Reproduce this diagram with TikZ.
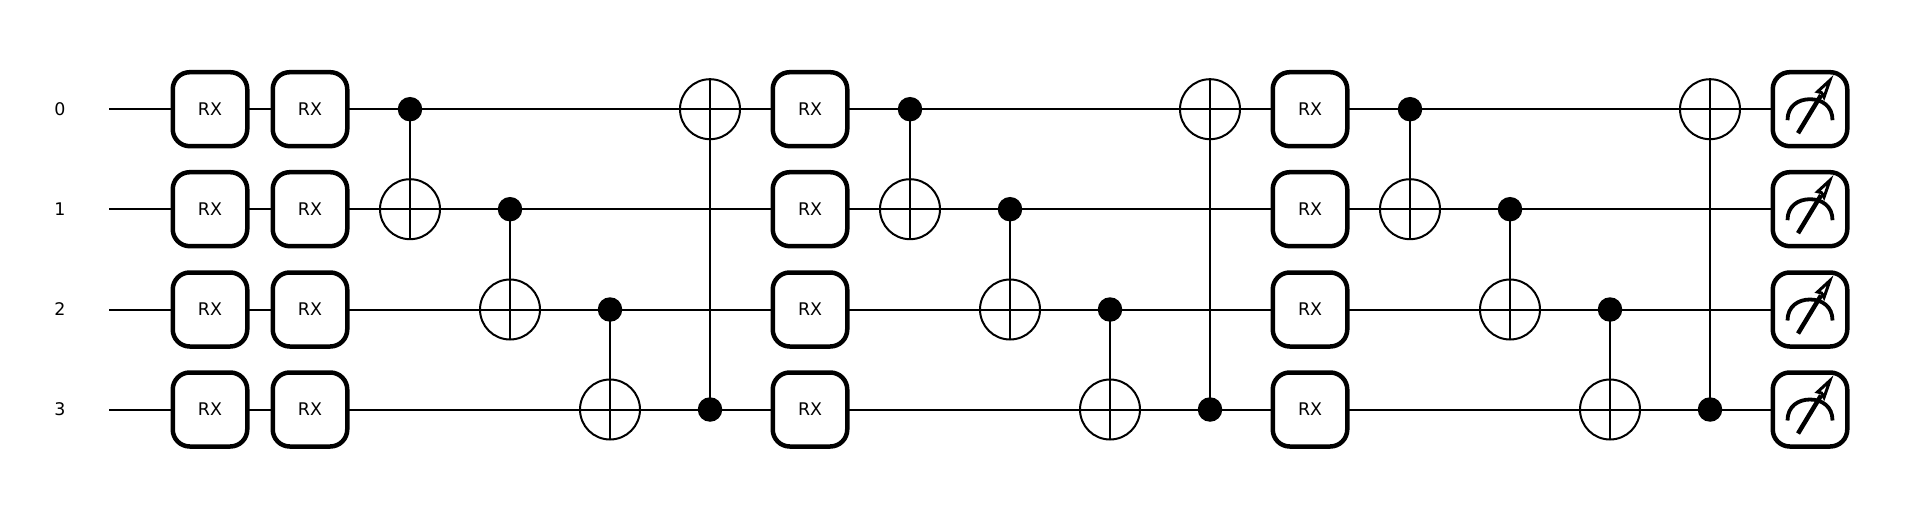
\documentclass[tikz,border=0pt]{standalone}
\usepackage{fontspec}
\setmainfont{DejaVu Sans}
\tikzset{
  x=1pt,y=-1pt,
  wire/.style={line width=2pt,black},
  link/.style={line width=2pt,black},
  gatebox/.style={draw=black,fill=white,line width=4.5pt,rounded corners=17pt,minimum width=74.5pt,minimum height=74pt,inner sep=0pt,outer sep=0pt,font=\fontsize{17.4}{20}\selectfont},
  ctrl/.style={circle,fill=black,draw=none,minimum size=24.5pt,inner sep=0pt,outer sep=0pt},
  targ/.style={circle,draw=black,fill=white,line width=2pt,minimum size=60pt,inner sep=0pt,outer sep=0pt},
  wlabel/.style={font=\fontsize{17.4}{20}\selectfont,inner sep=0pt},
  meterline/.style={line width=4.5pt,black},
}
\begin{document}
\begin{tikzpicture}
\useasboundingbox (0,0) rectangle (1920,519);
\fill[white] (0,0) rectangle (1920,519);
% wire ends
\foreach \q/\y in {0/109.2,1/209.2,2/309.5,3/409.5}{
  \node[wlabel] (L\q) at (60,\y) {\q};
  \coordinate (W\q) at (109,\y);
  \coordinate (E\q) at (1810,\y);
  \draw[wire] (W\q) -- (E\q);
}
% RX gates
\foreach \x in {210,310,810,1310}{
  \foreach \q/\y in {0/109.2,1/209.2,2/309.5,3/409.5}{
    \node[gatebox] (R\x-\q) at (\x,\y) {RX};
  }
}
% CNOTs: column / control / target
\foreach \x/\yc/\yt in {410/109.2/209.2,510/209.2/309.5,610/309.5/409.5,710/409.5/109.2,
                      910/109.2/209.2,1010/209.2/309.5,1110/309.5/409.5,1210/409.5/109.2,
                      1410/109.2/209.2,1510/209.2/309.5,1610/309.5/409.5,1710/409.5/109.2}{
  \node[targ] (T\x) at (\x,\yt) {};
  \node[ctrl] (C\x) at (\x,\yc) {};
  \draw[link] (C\x.center) -- (T\x.center);
  \draw[link] (T\x.west) -- (T\x.east);
  \draw[link] (T\x.north) -- (T\x.south);
}
% Measurements
\foreach \q/\y in {0/109.2,1/209.2,2/309.5,3/409.5}{
  \node[gatebox] (M\q) at (1810,\y) {};
  \begin{scope}[shift={(M\q.center)}]
    \draw[meterline,line width=3.8pt] (-22.5,11) .. controls (-22.5,-3) and (-12,-10) .. (0,-10)
       .. controls (12,-10) and (22.5,-3) .. (22.5,11);
    \draw[meterline] (-12,24) -- (11,-14);
    \draw[black,line width=3pt,fill=white,line join=miter,miter limit=20] (20,-29) -- (7.5,-17.5) -- (11.5,-16.5) -- (14,-12) -- cycle;
  \end{scope}
}
\end{tikzpicture}
\end{document}
